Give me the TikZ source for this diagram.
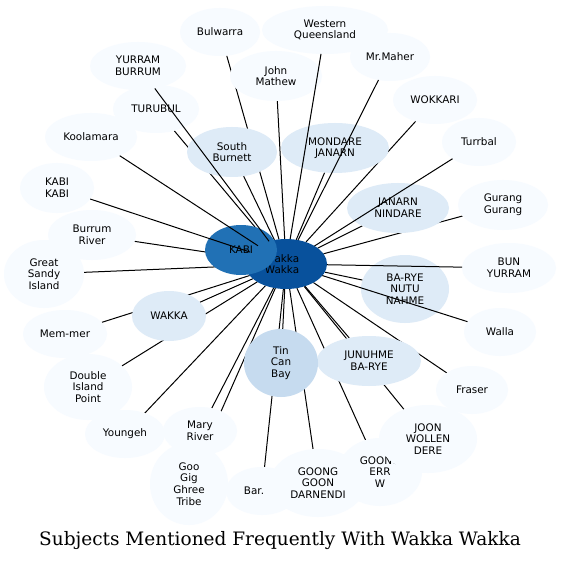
\documentclass[tikz,border=0pt]{standalone}
\usepackage{fontspec}
\newfontfamily\lab{DejaVu Sans}
\newfontfamily\ttl{DejaVu Serif}
\usetikzlibrary{shapes.geometric}
\definecolor{c0}{HTML}{F7FBFF}
\definecolor{c1}{HTML}{DEEBF7}
\definecolor{c2}{HTML}{C6DBEF}
\definecolor{c3}{HTML}{2171B5}
\definecolor{c4}{HTML}{08519C}
\pgfdeclarelayer{back}
\pgfdeclarelayer{bg}
\pgfsetlayers{back,bg,main}
\begin{document}
\begin{tikzpicture}[x=1pt,y=-1pt,
  nd/.style={ellipse, inner sep=0pt, outer sep=0pt, align=center,
    font=\lab\fontsize{10.4}{11.6}\selectfont, text=black},
  lo/.style={nd, fill=c0}, mi/.style={nd, fill=c1},
  md/.style={nd, fill=c2}, hi/.style={nd, fill=c3}, top/.style={nd, fill=c4},
  ed/.style={draw=black, line width=1pt}]
\begin{pgfonlayer}{back}
\fill[white] (0,0) rectangle (561,561);
\end{pgfonlayer}
\useasboundingbox (0,0) rectangle (561,561);
% nodes
\node[top, minimum width=82pt, minimum height=50pt,
  label={[align=center, font=\lab\fontsize{10.4}{11.6}\selectfont, xshift=-4pt]center:Wakka\\Wakka}] (wakka) at (286,264) {};
\node[hi, minimum width=72pt, minimum height=50pt] (kabi) at (241,250) {KABI};
\node[lo, minimum width=80pt, minimum height=48pt] (bulwarra) at (220,32) {Bulwarra};
\node[lo, minimum width=126pt, minimum height=48pt] (wq) at (325,30) {Western\\Queensland};
\node[lo, minimum width=92pt, minimum height=50pt] (jm) at (276,76) {John\\Mathew};
\node[lo, minimum width=80pt, minimum height=48pt] (maher) at (390,57) {Mr.Maher};
\node[lo, minimum width=96pt, minimum height=48pt] (yurram) at (138,66) {YURRAM\\BURRUM};
\node[lo, minimum width=86pt, minimum height=48pt] (turubul) at (156,109) {TURUBUL};
\node[lo, minimum width=92pt, minimum height=48pt] (kool) at (91,137) {Koolamara};
\node[lo, minimum width=74pt, minimum height=50pt] (kabikabi) at (57,188) {KABI\\KABI};
\node[lo, minimum width=88pt, minimum height=50pt] (burrum) at (92,235) {Burrum\\River};
\node[lo, minimum width=80pt, minimum height=68pt] (gsi) at (44,274) {Great\\Sandy\\Island};
\node[mi, minimum width=90pt, minimum height=50pt] (sb) at (232,152) {South\\Burnett};
\node[mi, minimum width=108pt, minimum height=50pt] (mondare) at (335,148) {MONDARE\\JANARN};
\node[lo, minimum width=84pt, minimum height=48pt] (wokkari) at (435,100) {WOKKARI};
\node[lo, minimum width=74pt, minimum height=48pt] (turrbal) at (479,142) {Turrbal};
\node[mi, minimum width=102pt, minimum height=50pt] (nindare) at (398,208) {JANARN\\NINDARE};
\node[lo, minimum width=90pt, minimum height=50pt] (gurang) at (503,205) {Gurang\\Gurang};
\node[lo, minimum width=94pt, minimum height=50pt] (bun) at (509,268) {BUN\\YURRAM};
\node[mi, minimum width=88pt, minimum height=68pt] (barye) at (405,289) {BA-RYE\\NUTU\\NAHME};
\node[lo, minimum width=72pt, minimum height=48pt] (walla) at (500,332) {Walla};
\node[mi, minimum width=104pt, minimum height=50pt] (junuhme) at (369,361) {JUNUHME\\BA-RYE};
\node[lo, minimum width=72pt, minimum height=48pt] (fraser) at (472,390) {Fraser};
\node[lo, minimum width=84pt, minimum height=68pt] (goonge) at (380,472) {GOONG\\ERR\\W};
\node[lo, minimum width=98pt, minimum height=68pt] (joon) at (428,439) {JOON\\WOLLEN\\DERE};
\node[lo, minimum width=72pt, minimum height=48pt,
  label={[font=\lab\fontsize{10.4}{11.6}\selectfont, xshift=-8pt]center:Bar.}] (bar) at (262,491) {};
\node[lo, minimum width=96pt, minimum height=68pt] (goongg) at (318,483) {GOONG\\GOON\\DARNENDI};
\node[md, minimum width=74pt, minimum height=68pt] (tcb) at (281,363) {Tin\\Can\\Bay};
\node[lo, minimum width=78pt, minimum height=82pt] (goo) at (189,484) {Goo\\Gig\\Ghree\\Tribe};
\node[lo, minimum width=74pt, minimum height=48pt] (mary) at (200,431) {Mary\\River};
\node[lo, minimum width=80pt, minimum height=48pt] (youngeh) at (125,434) {Youngeh};
\node[lo, minimum width=88pt, minimum height=66pt] (dip) at (88,387) {Double\\Island\\Point};
\node[lo, minimum width=84pt, minimum height=48pt] (memmer) at (65,334) {Mem-mer};
\node[mi, minimum width=74pt, minimum height=50pt] (wakkab) at (169,316) {WAKKA};
% edges beneath the nodes
\begin{pgfonlayer}{bg}
\foreach \t in {kabi,bulwarra,jm,turubul,burrum,gsi,sb,mondare,wokkari,nindare,gurang,barye,junuhme,fraser,joon,goonge,goongg,bar,tcb,goo,mary,youngeh,dip,memmer,wakkab}
  \draw[ed] (wakka) -- (\t);
\end{pgfonlayer}
% edges above the nodes
\foreach \t in {yurram,kool,kabikabi,wq,maher,turrbal,bun,walla}
  \draw[ed] (wakka) -- (\t);
\node[font=\ttl\fontsize{18.5}{22}\selectfont, anchor=base] (title) at (280,545) {Subjects Mentioned Frequently With Wakka Wakka};
\end{tikzpicture}
\end{document}
